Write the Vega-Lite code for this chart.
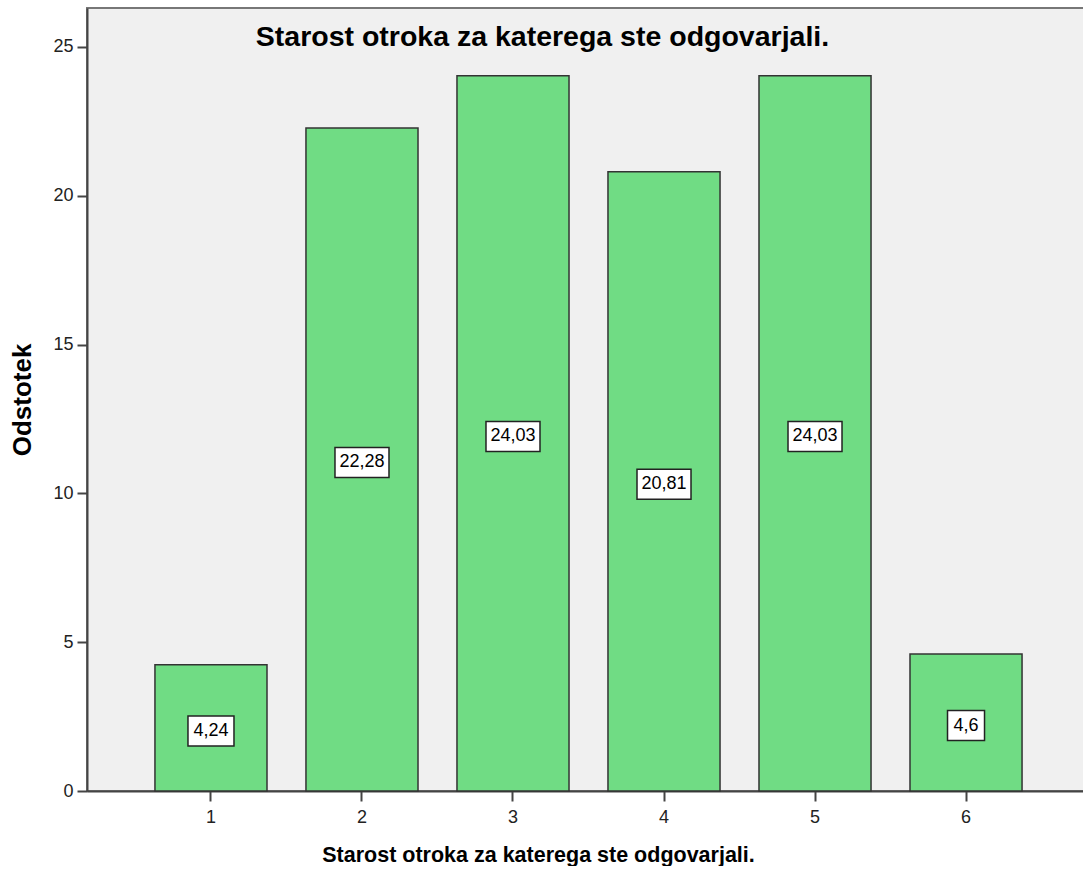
{
  "$schema": "https://vega.github.io/schema/vega-lite/v6.json",
  "autosize": {"type": "none"},
  "padding": {"left": 87, "top": 8, "right": 0, "bottom": 75},
  "width": 1003,
  "height": 783,
  "background": "white",
  "title": {
    "text": "Starost otroka za katerega ste odgovarjali.",
    "font": "Liberation Sans",
    "fontSize": 28.5,
    "fontWeight": "bold",
    "color": "black",
    "anchor": "middle",
    "frame": "group",
    "dx": -46,
    "baseline": "alphabetic",
    "offset": -66
  },
  "config": {
    "view": {"fill": "#f0f0f0", "stroke": "#777777", "strokeWidth": 2},
    "axis": {
      "grid": false,
      "domainColor": "#444444",
      "domainWidth": 2,
      "tickColor": "#444444",
      "tickWidth": 2,
      "tickSize": 10,
      "labelFont": "Liberation Sans",
      "labelFontSize": 18,
      "labelColor": "#222222",
      "titleFont": "Liberation Sans",
      "titleFontWeight": "bold",
      "titleColor": "black"
    }
  },
  "data": {
    "values": [
      {"age": "1", "value": 4.24, "label": "4,24"},
      {"age": "2", "value": 22.28, "label": "22,28"},
      {"age": "3", "value": 24.03, "label": "24,03"},
      {"age": "4", "value": 20.81, "label": "20,81"},
      {"age": "5", "value": 24.03, "label": "24,03"},
      {"age": "6", "value": 4.6, "label": "4,6"}
    ]
  },
  "encoding": {
    "x": {
      "field": "age",
      "type": "ordinal",
      "sort": null,
      "scale": {"paddingInner": 0.258, "paddingOuter": 0.45},
      "axis": {
        "title": "Starost otroka za katerega ste odgovarjali.",
        "titleFontSize": 21.5,
        "titlePadding": 18,
        "titleX": 451,
        "titleAnchor": "middle",
        "labelAngle": 0,
        "labelPadding": 7
      }
    }
  },
  "layer": [
    {
      "mark": {"type": "bar", "fill": "#70dc84", "stroke": "#333333", "strokeWidth": 1.5},
      "encoding": {
        "y": {
          "field": "value",
          "type": "quantitative",
          "scale": {"domain": [0, 26.31], "nice": false, "zero": true},
          "axis": {
            "title": "Odstotek",
            "titleFontSize": 26,
            "titlePadding": 17,
            "values": [0, 5, 10, 15, 20, 25],
            "labelPadding": 4
          }
        }
      }
    },
    {
      "encoding": {
        "y": {
          "field": "value",
          "type": "quantitative",
          "scale": {"domain": [0, 52.62], "nice": false, "zero": true},
          "axis": null
        }
      },
      "layer": [
        {
          "transform": [{"filter": "length(datum.label) == 5"}],
          "mark": {"type": "point", "shape": "M-27,-15H27V15H-27Z", "size": 4, "filled": true, "fill": "white", "stroke": "#222222", "strokeWidth": 1.5, "opacity": 1, "yOffset": 3}
        },
        {
          "transform": [{"filter": "length(datum.label) == 4"}],
          "mark": {"type": "point", "shape": "M-23,-15H23V15H-23Z", "size": 4, "filled": true, "fill": "white", "stroke": "#222222", "strokeWidth": 1.5, "opacity": 1, "yOffset": 3}
        },
        {
          "transform": [{"filter": "length(datum.label) == 3"}],
          "mark": {"type": "point", "shape": "M-18.5,-15H18.5V15H-18.5Z", "size": 4, "filled": true, "fill": "white", "stroke": "#222222", "strokeWidth": 1.5, "opacity": 1, "yOffset": 3}
        },
        {
          "mark": {"type": "text", "font": "Liberation Sans", "fontSize": 18, "color": "black", "baseline": "middle", "align": "center", "yOffset": 3},
          "encoding": {"text": {"field": "label", "type": "nominal"}}
        }
      ]
    }
  ],
  "resolve": {"scale": {"y": "independent"}}
}
